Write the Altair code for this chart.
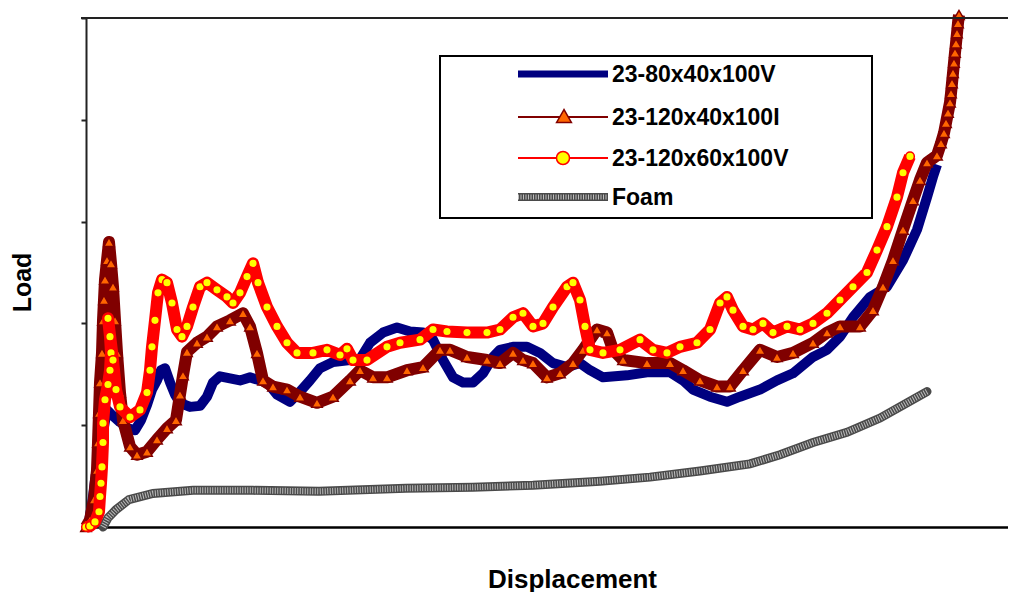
import altair as alt
import pandas as pd

# ---- data (displacement, load) ----
s_blue = "23-80x40x100V"
blue_x = [0.2, 0.6, 0.9, 1.1, 1.4, 1.7, 2.1, 2.6, 3.4, 4.2, 4.9, 5.5, 6.1, 6.6, 7.1, 7.5, 7.9, 8.4, 8.9, 9.4,
          10.4, 11.4, 12.1, 12.7, 13.4, 14.4, 15.4, 16.4, 17.4, 18.2, 19.1, 20.4, 21.4, 22.4, 23.4, 24.7, 26.4,
          27.4, 28.4, 29.7, 31.1, 32.4, 33.7, 34.7, 35.7, 36.7, 37.7, 38.7, 39.7, 40.7, 41.4, 42.7, 44.1, 45.4,
          46.7, 48.1, 49.4, 50.4, 51.7, 54.1, 56.1, 58.4, 59.7, 60.7, 62.4, 64.1, 65.4, 67.4, 69.1, 70.7, 72.7,
          74.1, 75.4, 76.7, 78.4, 80.1, 81.7, 83.1, 84.1, 84.7, 85.1]
blue_y = [0.0, 2.2, 4.6, 5.9, 7.6, 9.3, 11.5, 11.0, 10.3, 9.7, 9.5, 10.5, 12.0, 13.5, 14.4, 15.4, 15.6, 14.2,
          13.0, 12.2, 11.8, 11.9, 12.8, 14.2, 14.8, 14.6, 14.4, 14.7, 14.4, 14.1, 13.0, 12.3, 13.3, 14.4, 15.6,
          16.2, 16.4, 16.5, 18.1, 19.1, 19.6, 19.2, 19.1, 18.4, 16.4, 14.7, 14.2, 14.2, 15.1, 16.7, 17.4, 17.7,
          17.7, 17.1, 16.1, 15.7, 16.1, 15.4, 14.7, 14.9, 15.2, 15.2, 14.4, 13.5, 12.8, 12.3, 12.8, 13.5, 14.4,
          15.1, 16.7, 17.4, 18.7, 20.6, 22.6, 23.6, 26.2, 29.2, 32.4, 34.4, 35.6]

s_brown = "23-120x40x100I"
brown_x = [0.0, 0.4, 0.8, 1.1, 1.2, 1.3, 1.4, 1.6, 1.7, 1.8, 1.9, 2.1, 2.3, 2.5, 2.7, 2.9, 3.1, 3.4, 3.7, 4.4,
           5.1, 6.1, 7.1, 8.1, 9.0, 9.4, 9.7, 10.1, 11.1, 12.1, 13.1, 14.4, 15.7, 16.4, 17.1, 17.7, 18.7, 20.1,
           21.4, 23.1, 24.7, 26.4, 27.4, 28.7, 30.1, 32.1, 33.7, 35.4, 36.4, 38.1, 40.1, 41.4, 42.7, 43.7, 44.7,
           46.1, 47.4, 48.7, 49.7, 51.1, 52.1, 52.7, 53.7, 56.1, 58.4, 59.7, 61.4, 63.1, 64.4, 65.7, 67.4, 69.1,
           70.7, 72.7, 74.1, 75.4, 77.4, 78.7, 79.7, 80.7, 81.7, 82.7, 83.4, 84.1, 85.1, 85.5, 85.8, 86.0, 86.2,
           86.4, 86.5, 86.6, 86.7, 86.8, 86.9, 87.0, 87.1, 87.2, 87.3]
brown_y = [0.0, 0.7, 2.7, 5.6, 8.3, 11.2, 14.2, 17.1, 20.3, 22.3, 24.3, 26.2, 28.0, 25.9, 23.6, 20.3, 17.1,
           13.2, 10.5, 7.9, 7.1, 7.4, 8.6, 9.7, 10.5, 13.0, 14.9, 17.2, 18.1, 18.7, 19.7, 20.3, 21.0, 19.7,
           17.1, 14.4, 13.8, 13.5, 12.8, 12.2, 12.8, 14.4, 15.4, 14.7, 14.7, 15.4, 15.7, 17.4, 17.4, 16.7, 16.4,
           16.1, 17.1, 16.4, 16.1, 14.7, 15.1, 16.1, 17.4, 19.4, 19.1, 17.4, 16.4, 16.1, 16.1, 15.4, 14.4, 13.8,
           13.8, 15.4, 17.4, 16.7, 17.1, 18.1, 19.1, 19.7, 19.7, 21.3, 23.6, 26.2, 29.2, 32.1, 34.1, 35.8, 36.5,
           37.7, 38.7, 39.7, 40.7, 41.7, 42.6, 43.6, 44.6, 45.6, 46.6, 47.5, 48.5, 49.5, 50.3]

s_red = "23-120x60x100V"
red_x = [0.0, 0.4, 0.9, 1.3, 1.4, 1.5, 1.6, 1.7, 1.7, 1.9, 2.2, 2.4, 2.5, 2.4, 2.2, 2.7, 3.0, 3.4, 4.4, 5.4,
         6.1, 6.4, 6.6, 6.9, 7.2, 7.6, 8.1, 8.6, 9.1, 9.6, 10.1, 10.7, 11.4, 12.1, 13.1, 14.1, 14.7, 15.4, 16.1,
         16.7, 17.2, 18.1, 19.1, 20.1, 21.1, 22.7, 24.1, 25.4, 26.1, 26.7, 28.1, 30.1, 31.4, 33.4, 34.7, 36.1,
         38.1, 40.1, 41.4, 42.7, 43.7, 44.7, 45.7, 46.7, 48.1, 48.7, 49.4, 49.9, 50.4, 51.7, 53.4, 55.4, 56.7,
         58.1, 59.4, 61.1, 62.4, 63.4, 64.1, 64.7, 65.7, 66.7, 67.7, 68.7, 70.1, 71.4, 72.7, 74.1, 75.4, 76.7,
         78.1, 79.1, 80.1, 81.1, 81.7, 82.4]
red_y = [0.0, 0.1, 0.5, 1.5, 3.0, 4.3, 5.9, 8.3, 10.2, 12.5, 14.0, 15.4, 17.1, 18.7, 20.5, 16.4, 13.5, 11.8,
         10.8, 11.5, 13.2, 15.4, 17.7, 20.3, 23.0, 24.3, 24.0, 22.0, 19.4, 18.7, 19.7, 21.6, 23.6, 24.0, 23.3,
         22.6, 22.0, 23.0, 24.6, 25.9, 24.0, 21.6, 19.7, 18.1, 17.1, 17.1, 17.4, 16.9, 17.5, 16.4, 16.4, 17.7,
         18.1, 18.4, 19.4, 19.2, 19.1, 19.1, 19.4, 20.6, 21.0, 19.7, 20.0, 21.6, 23.6, 24.0, 22.3, 19.7, 17.4,
         17.1, 17.4, 18.4, 17.4, 17.1, 17.7, 18.1, 19.4, 22.0, 22.6, 21.3, 19.7, 19.4, 20.0, 19.1, 19.7, 19.4,
         20.0, 21.0, 22.3, 23.6, 25.0, 27.2, 29.5, 32.4, 34.8, 36.4]

s_foam = "Foam"
foam_x = [1.7, 2.2, 3.0, 4.3, 6.7, 10.7, 16.7, 23.3, 32.0, 38.7, 44.7, 51.4, 56.4, 61.4, 66.4, 69.4, 72.7,
          76.1, 79.4, 82.1, 84.1]
foam_y = [0.0, 0.9, 1.7, 2.7, 3.3, 3.6, 3.6, 3.5, 3.8, 3.9, 4.1, 4.5, 4.9, 5.5, 6.2, 7.1, 8.3, 9.3, 10.7,
          12.2, 13.3]

load_ticks = [0, 10, 20, 30, 40, 50]


def frame(name, xs, ys):
    return pd.DataFrame({"series": name, "x": xs, "y": ys, "i": list(range(len(xs)))})


df = pd.concat([frame(s_blue, blue_x, blue_y), frame(s_brown, brown_x, brown_y),
                frame(s_red, red_x, red_y), frame(s_foam, foam_x, foam_y)], ignore_index=True)

W, H = 922, 509
FONT = "Liberation Sans"

x_axis = alt.Axis(title="Displacement", labels=False, ticks=False, grid=False,
                  domainColor="#000000", domainWidth=2.5,
                  titleFont=FONT, titleFontSize=26, titleFontWeight="bold", titleColor="#000000",
                  titleX=486, titleY=60, titleAlign="center", titleBaseline="alphabetic")
y_axis = alt.Axis(title="Load", values=load_ticks, labels=False, ticks=True, tickSize=5, tickWidth=2,
                  tickColor="#222222", domainColor="#222222", domainWidth=2, grid=False,
                  titleFont=FONT, titleFontSize=25, titleFontWeight="bold", titleColor="#000000",
                  titleX=-64, titleY=264, titleAngle=270, titleAlign="center", titleBaseline="middle")

X = alt.X("x:Q", scale=alt.Scale(domain=[0, 92.2], nice=False, zero=False), axis=x_axis)
Y = alt.Y("y:Q", scale=alt.Scale(domain=[0, 50], nice=False, zero=False), axis=y_axis)
O = alt.Order("i:Q")

base = alt.Chart(df)


def only(name):
    return base.transform_filter(alt.datum.series == name)


foam_base = only(s_foam).mark_line(color="#4a4a4a", strokeWidth=9, strokeCap="round").encode(X, Y, O)
foam_tex = only(s_foam).mark_line(color="#bdbdbd", strokeWidth=6, strokeDash=[1, 1.5]).encode(X, Y, O)
blue_line = only(s_blue).mark_line(color="#000080", strokeWidth=10, strokeJoin="round").encode(X, Y, O)
brown_line = only(s_brown).mark_line(color="#800000", strokeWidth=12, strokeJoin="round").encode(X, Y, O)
brown_pts = only(s_brown).mark_point(shape="triangle-up", filled=True, fill="#ff6600", stroke="#800000",
                                     strokeWidth=1.5, size=110, opacity=1).encode(X, Y)
red_line = only(s_red).mark_line(color="#ff0000", strokeWidth=12, strokeJoin="round").encode(X, Y, O)
red_pts = only(s_red).mark_point(shape="circle", filled=True, fill="#ffff00", stroke="#ff0000",
                                 strokeWidth=1.5, size=75, opacity=1).encode(X, Y)

# top frame line
top_line = alt.Chart(pd.DataFrame({"k": [0]})).mark_rule(color="#222222", strokeWidth=2).encode(
    x=alt.value(-5), x2=alt.value(W), y=alt.value(0))

# legend box
one = pd.DataFrame({"k": [0]})
leg_box = alt.Chart(one).mark_rect(fill="white", stroke="#000000", strokeWidth=2).encode(
    x=alt.value(354), x2=alt.value(786), y=alt.value(38), y2=alt.value(200))

legend_rows = [56, 99, 140, 179]
leg_layers = [leg_box]
labels = [s_blue, s_brown, s_red, s_foam]
line_styles = [
    dict(color="#000080", strokeWidth=7),
    dict(color="#800000", strokeWidth=2),
    dict(color="#ff0000", strokeWidth=2),
    dict(color="#4a4a4a", strokeWidth=8),
]
for lab, ry, st in zip(labels, legend_rows, line_styles):
    d = pd.DataFrame({"label": [lab]})
    leg_layers.append(alt.Chart(d).mark_rule(**st).encode(
        x=alt.value(432), x2=alt.value(522), y=alt.value(ry)))
    if lab == s_foam:
        leg_layers.append(alt.Chart(d).mark_rule(color="#bdbdbd", strokeWidth=5, strokeDash=[1, 1.5]).encode(
            x=alt.value(432), x2=alt.value(522), y=alt.value(ry)))
    if lab == s_brown:
        leg_layers.append(alt.Chart(d).mark_point(shape="triangle-up", filled=True, fill="#ff6600",
                                                  stroke="#800000", strokeWidth=1.5, size=220, opacity=1).encode(
            x=alt.value(478), y=alt.value(ry - 1)))
    if lab == s_red:
        leg_layers.append(alt.Chart(d).mark_point(shape="circle", filled=True, fill="#ffff00",
                                                  stroke="#ff0000", strokeWidth=1.5, size=170, opacity=1).encode(
            x=alt.value(477), y=alt.value(ry)))
    leg_layers.append(alt.Chart(d).mark_text(align="left", baseline="middle", font=FONT, fontSize=23,
                                             fontWeight="bold", color="#000000").encode(
        x=alt.value(526), y=alt.value(ry + 1), text="label:N"))

chart = alt.layer(
    foam_base, foam_tex, blue_line, brown_line, brown_pts, red_line, red_pts, top_line, *leg_layers
).properties(
    width=W, height=H,
    autosize=alt.AutoSizeParams(type="none"),
    padding={"left": 78, "top": 10, "right": 0, "bottom": 65},
    background="white",
).configure_view(stroke=None)

chart.save("out.html", embed_options={"renderer": "svg", "actions": False})
